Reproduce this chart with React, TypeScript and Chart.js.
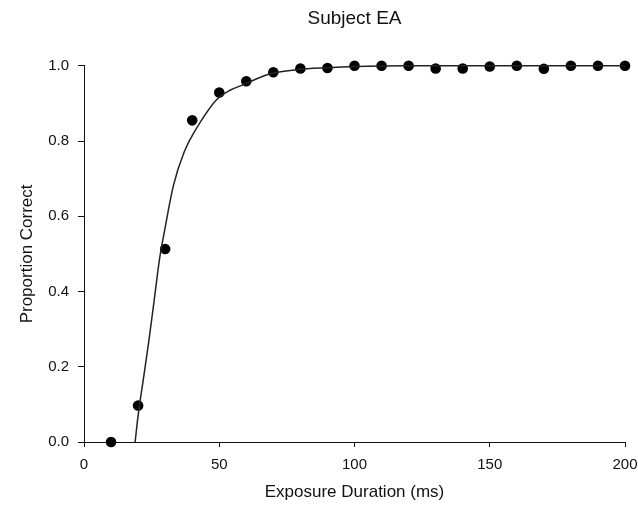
import React, { useEffect, useRef } from "react";
import { Chart, registerables } from "chart.js";

Chart.register(...registerables);

const durations = [10, 20, 30, 40, 50, 60, 70, 80, 90, 100, 110, 120, 130, 140, 150, 160, 170, 180, 190, 200];
const proportions = [0.0, 0.097, 0.513, 0.855, 0.929, 0.959, 0.983, 0.993, 0.994, 1.0, 1.0, 1.0, 0.993, 0.993, 0.998, 1.0, 0.992, 1.0, 1.0, 1.0];

const fitX = [18.9, 20, 22, 24, 26, 28, 30, 33, 37, 43, 49, 54, 59, 68, 79, 90, 100, 120, 150, 200];
const fitY = [0, 0.07, 0.17, 0.27, 0.38, 0.49, 0.57, 0.68, 0.77, 0.85, 0.91, 0.935, 0.95, 0.977, 0.99, 0.995, 0.998, 1.0, 1.0, 1.0];

const xTicks = [0, 50, 100, 150, 200];
const yTicks = [0, 0.2, 0.4, 0.6, 0.8, 1.0];

const FONT = "'Liberation Sans', Arial, Helvetica, sans-serif";
const INK = "#111";

export default function App() {
  const ref = useRef<HTMLCanvasElement | null>(null);

  useEffect(() => {
    document.body.style.margin = "0";
    const canvas = ref.current;
    if (!canvas) return;
    const chart = new Chart(canvas, {
      type: "scatter",
      data: {
        datasets: [
          {
            label: "fit",
            data: fitX.map((x, i) => ({ x, y: fitY[i] })),
            showLine: true,
            pointRadius: 0,
            borderColor: "#222",
            borderWidth: 1.5,
            cubicInterpolationMode: "monotone",
            clip: false as any,
          } as any,
          {
            label: "data",
            data: durations.map((x, i) => ({ x, y: proportions[i] })),
            showLine: false,
            pointRadius: 5.3,
            pointBackgroundColor: "#000",
            pointBorderColor: "#000",
            pointBorderWidth: 0,
            clip: false as any,
          } as any,
        ],
      },
      options: {
        animation: false,
        responsive: false,
        maintainAspectRatio: false,
        events: [],
        layout: { padding: { left: 0, right: 13, top: 0, bottom: 0 } },
        plugins: {
          legend: { display: false },
          tooltip: { enabled: false },
          title: {
            display: true,
            text: "Subject EA",
            fullSize: false,
            color: INK,
            font: { family: FONT, size: 19, weight: "normal" },
            padding: { top: 7, bottom: 36 },
          },
        },
        scales: {
          x: {
            type: "linear",
            min: 0,
            max: 200,
            afterBuildTicks: (s: any) => {
              s.ticks = xTicks.map((v) => ({ value: v }));
            },
            afterFit: (s: any) => {
              s.height = 65;
              s.paddingRight = 0;
              s.paddingLeft = 0;
            },
            ticks: {
              color: INK,
              font: { family: FONT, size: 15 },
              padding: 9,
              maxRotation: 0,
              callback: (v: any) => String(v),
            },
            grid: { display: true, drawOnChartArea: false, drawTicks: true, tickLength: 5, color: INK },
            border: { display: true, color: INK, width: 1 },
            title: {
              display: true,
              text: "Exposure Duration (ms)",
              color: INK,
              font: { family: FONT, size: 17 },
              padding: { top: 4, bottom: 4 },
            },
          },
          y: {
            type: "linear",
            min: 0,
            max: 1,
            afterBuildTicks: (s: any) => {
              s.ticks = yTicks.map((v) => ({ value: v }));
            },
            afterFit: (s: any) => {
              s.width = 84;
            },
            ticks: {
              color: INK,
              font: { family: FONT, size: 15 },
              padding: 9,
              callback: (v: any) => Number(v).toFixed(1),
            },
            grid: { display: true, drawOnChartArea: false, drawTicks: true, tickLength: 6, color: INK },
            border: { display: true, color: INK, width: 1 },
            title: {
              display: true,
              text: "Proportion Correct",
              color: INK,
              font: { family: FONT, size: 17 },
              padding: { top: 17, bottom: 4 },
            },
          },
        },
      } as any,
    });
    return () => chart.destroy();
  }, []);

  return (
    <div style={{ width: 638, height: 507, background: "#fff" }}>
      <canvas ref={ref} width={638} height={507} style={{ display: "block" }} />
    </div>
  );
}
